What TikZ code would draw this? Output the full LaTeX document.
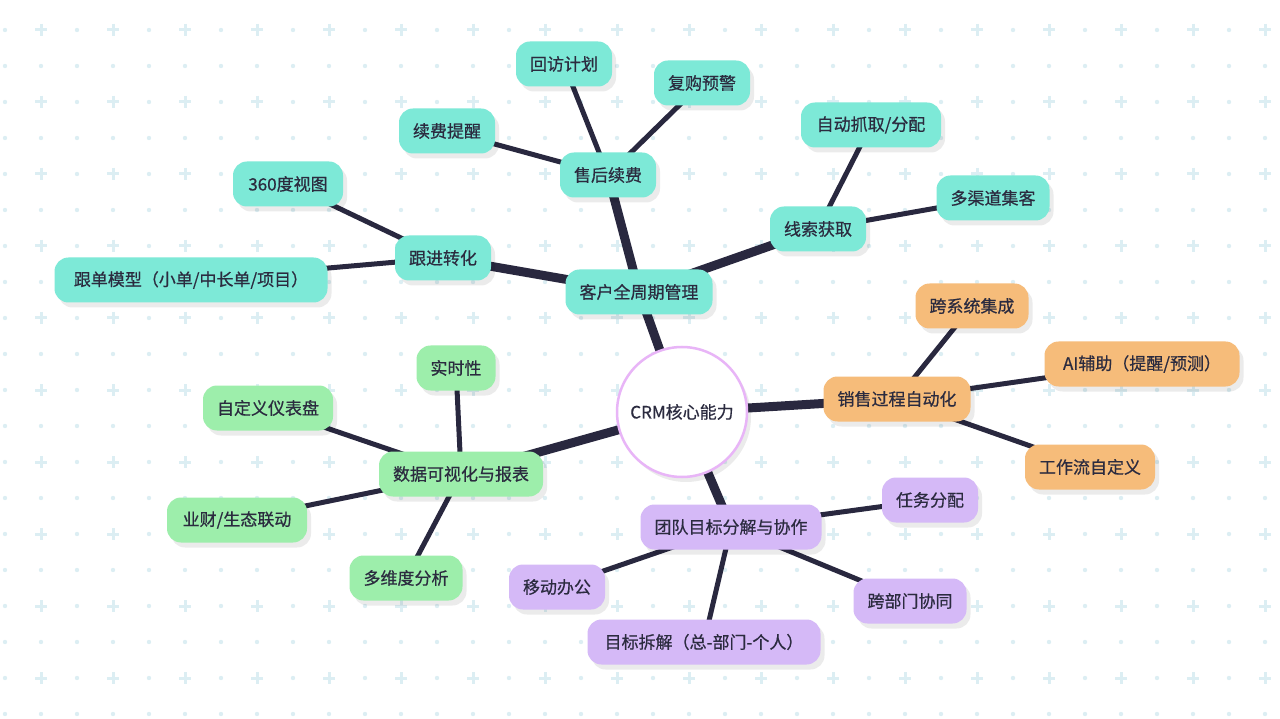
\documentclass[tikz,border=0pt]{standalone}
\usepackage{fontspec}
\setmainfont{Noto Sans CJK SC}
\newfontfamily\medfont{Noto Sans CJK SC}[RawFeature={embolden=0.6}]
\usetikzlibrary{shadows}
\pgfdeclarelayer{bg}
\pgfdeclarelayer{edges}
\pgfsetlayers{bg,edges,main}
\definecolor{cteal}{HTML}{7DE9D7}
\definecolor{corange}{HTML}{F6BC7A}
\definecolor{cgreen}{HTML}{9DEEAB}
\definecolor{cpurple}{HTML}{D5B9F7}
\definecolor{ctext}{HTML}{2B2B3F}
\definecolor{cedge}{HTML}{29283F}
\definecolor{cpat}{HTML}{DCEEF3}
\definecolor{cring}{HTML}{E8B5F7}
\tikzset{
  box/.style={rounded corners=14pt, minimum height=45pt, inner xsep=14pt, inner ysep=0pt,
    text=ctext, font=\medfont\fontsize{17}{20}\selectfont,
    drop shadow={shadow xshift=4pt, shadow yshift=-5pt, fill=black, opacity=0.08}},
  tealbox/.style={box, fill=cteal},
  orangebox/.style={box, fill=corange},
  greenbox/.style={box, fill=cgreen},
  purplebox/.style={box, fill=cpurple},
  hub/.style={circle, minimum size=130pt, fill=white, draw=cring, line width=2.5pt,
    text=ctext, font=\medfont\fontsize{17}{20}\selectfont,
    drop shadow={shadow xshift=4pt, shadow yshift=-5pt, fill=black, opacity=0.08}},
  trunk/.style={draw=cedge, line width=9pt},
  twig/.style={draw=cedge, line width=5pt},
}
\begin{document}
\begin{tikzpicture}[x=1pt,y=-1pt]
\begin{pgfonlayer}{bg}
\fill[white] (0,0) rectangle (1280,719);
\foreach \i in {0,...,35}{
  \foreach \j in {0,...,19}{
    \pgfmathtruncatemacro{\px}{5+36*\i}
    \pgfmathtruncatemacro{\py}{30+36*\j}
    \pgfmathtruncatemacro{\isplus}{(mod(\i,2)==1 && mod(\j,2)==0) ? 1 : 0}
    \ifnum\isplus=1
      \draw[cpat, line width=3pt] (\px-6,\py) -- (\px+6,\py) (\px,\py-6) -- (\px,\py+6);
    \else
      \fill[cpat] (\px,\py) circle (2.2pt);
    \fi
  }
}
\end{pgfonlayer}
\useasboundingbox (0,0) rectangle (1280,719);

\node[hub] (c) at (682,412) {CRM核心能力};

\node[tealbox] (kh) at (639,292) {客户全周期管理};
\node[tealbox] (xs) at (818,229) {线索获取};
\node[tealbox, minimum width=140pt] (zd) at (871,125) {自动抓取/分配};
\node[tealbox] (dq) at (993,198) {多渠道集客};
\node[tealbox] (sh) at (608,175) {售后续费};
\node[tealbox] (hf) at (564,64) {回访计划};
\node[tealbox] (fg) at (702,83) {复购预警};
\node[tealbox] (xf) at (447,131) {续费提醒};
\node[tealbox] (gj) at (443,258) {跟进转化};
\node[tealbox, minimum width=110pt] (st) at (288,184) {360度视图};
\node[tealbox, minimum width=273pt] (gd) at (191,280) {跟单模型（小单/中长单/项目）};

\node[orangebox] (xx) at (897,399) {销售过程自动化};
\node[orangebox] (kx) at (972,306) {跨系统集成};
\node[orangebox, minimum width=195pt] (ai) at (1142,364) {AI辅助（提醒/预测）};
\node[orangebox] (gz) at (1090,467) {工作流自定义};

\node[purplebox] (td) at (731,527) {团队目标分解与协作};
\node[purplebox] (rw) at (930,500) {任务分配};
\node[purplebox] (kb) at (910,601) {跨部门协同};
\node[purplebox, minimum width=233pt] (mb) at (704,642) {目标拆解（总-部门-个人）};
\node[purplebox] (yd) at (557,587) {移动办公};

\node[greenbox] (sj) at (461,474) {数据可视化与报表};
\node[greenbox] (ss) at (456,368) {实时性};
\node[greenbox] (zy) at (268,408) {自定义仪表盘};
\node[greenbox, minimum width=140pt] (yc) at (237,520) {业财/生态联动};
\node[greenbox] (dw) at (406,578) {多维度分析};

\begin{pgfonlayer}{edges}
\draw[trunk] (c.center) -- (kh.center);
\draw[trunk] (c.center) -- (xx.center);
\draw[trunk] (c.center) -- (td.center);
\draw[trunk] (c.center) -- (sj.center);
\draw[trunk] (kh.center) -- (xs.center);
\draw[trunk] (kh.center) -- (sh.center);
\draw[trunk] (kh.center) -- (gj.center);
\draw[twig] (xs.center) -- (zd.center);
\draw[twig] (xs.center) -- (dq.center);
\draw[twig] (sh.center) -- (hf.center);
\draw[twig] (sh.center) -- (fg.center);
\draw[twig] (sh.center) -- (xf.center);
\draw[twig] (gj.center) -- (st.center);
\draw[twig] (gj.center) -- (gd.center);
\draw[twig] (xx.center) -- (kx.center);
\draw[twig] (xx.center) -- (ai.center);
\draw[twig] (xx.center) -- (gz.center);
\draw[twig] (td.center) -- (rw.center);
\draw[twig] (td.center) -- (kb.center);
\draw[twig] (td.center) -- (mb.center);
\draw[twig] (td.center) -- (yd.center);
\draw[twig] (sj.center) -- (ss.center);
\draw[twig] (sj.center) -- (zy.center);
\draw[twig] (sj.center) -- (yc.center);
\draw[twig] (sj.center) -- (dw.center);
\end{pgfonlayer}
\end{tikzpicture}
\end{document}
